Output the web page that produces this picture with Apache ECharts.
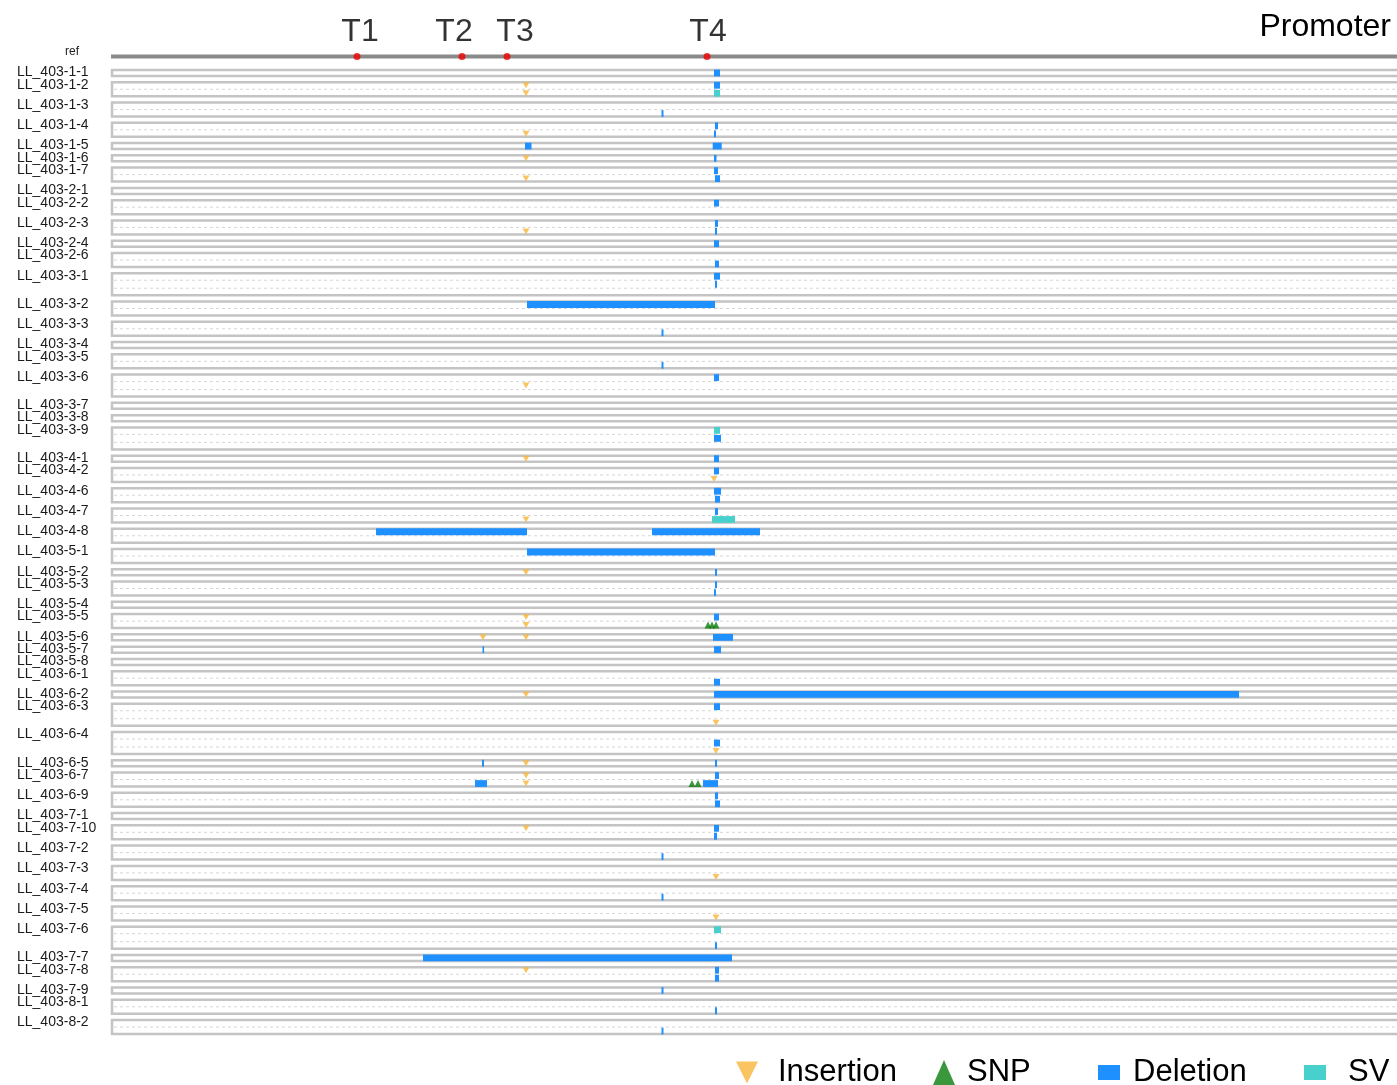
<!DOCTYPE html>
<html>
<head>
<meta charset="utf-8">
<script src="https://cdn.jsdelivr.net/npm/echarts@6/dist/echarts.min.js"></script>
<style>
  html, body { margin: 0; padding: 0; background: #fff; }
  #chart { width: 1397px; height: 1085px; }
</style>
</head>
<body>
<div id="chart"></div>
<script>
// samples (top to bottom) and number of allele tracks in each
const samples = ['LL_403-1-1','LL_403-1-2','LL_403-1-3','LL_403-1-4','LL_403-1-5','LL_403-1-6','LL_403-1-7',
  'LL_403-2-1','LL_403-2-2','LL_403-2-3','LL_403-2-4','LL_403-2-6',
  'LL_403-3-1','LL_403-3-2','LL_403-3-3','LL_403-3-4','LL_403-3-5','LL_403-3-6','LL_403-3-7','LL_403-3-8','LL_403-3-9',
  'LL_403-4-1','LL_403-4-2','LL_403-4-6','LL_403-4-7','LL_403-4-8',
  'LL_403-5-1','LL_403-5-2','LL_403-5-3','LL_403-5-4','LL_403-5-5','LL_403-5-6','LL_403-5-7','LL_403-5-8',
  'LL_403-6-1','LL_403-6-2','LL_403-6-3','LL_403-6-4','LL_403-6-5','LL_403-6-7','LL_403-6-9',
  'LL_403-7-1','LL_403-7-10','LL_403-7-2','LL_403-7-3','LL_403-7-4','LL_403-7-5','LL_403-7-6','LL_403-7-7','LL_403-7-8','LL_403-7-9',
  'LL_403-8-1','LL_403-8-2'];
const trackCounts = [1,2,2,2,1,1,2, 1,2,2,1,2, 3,2,2,1,2,3,1,1,3, 1,2,2,2,2, 2,1,2,1,2,1,1,1, 2,1,3,3,1,2,2, 1,2,2,2,2,2,3,1,2,1, 2,2];

// target sites on the reference
const targetNames = ['T1', 'T2', 'T3', 'T4'];
const targetPos = [246, 351, 396, 596];
const regionLength = 1286;

// [sample, track, start, end]
const deletions = [
  ['LL_403-1-1',0,603,609], ['LL_403-1-2',0,603,609], ['LL_403-1-3',1,550.5,552.5],
  ['LL_403-1-4',0,604,607], ['LL_403-1-4',1,603,605],
  ['LL_403-1-5',0,414,420.5], ['LL_403-1-5',0,601.7,610.7], ['LL_403-1-6',0,603,605.5],
  ['LL_403-1-7',0,603,607], ['LL_403-1-7',1,604,609],
  ['LL_403-2-2',0,603,608], ['LL_403-2-3',0,604,607], ['LL_403-2-3',1,604,606], ['LL_403-2-4',0,603,608],
  ['LL_403-2-6',1,604,608], ['LL_403-3-1',0,603,609], ['LL_403-3-1',1,604,606],
  ['LL_403-3-2',0,416,604], ['LL_403-3-3',1,550.5,552.5], ['LL_403-3-5',1,550.5,552.5],
  ['LL_403-3-6',0,603,608], ['LL_403-3-9',1,603,610], ['LL_403-4-1',0,603,608], ['LL_403-4-2',0,603,608],
  ['LL_403-4-6',0,603,610], ['LL_403-4-6',1,604,609], ['LL_403-4-7',0,604,607],
  ['LL_403-4-8',0,265,416], ['LL_403-4-8',0,541,649], ['LL_403-5-1',0,416,604],
  ['LL_403-5-2',0,604,606], ['LL_403-5-3',0,604,606], ['LL_403-5-3',1,603,605], ['LL_403-5-5',0,603,608],
  ['LL_403-5-6',0,602,622], ['LL_403-5-7',0,371.5,373], ['LL_403-5-7',0,603,610],
  ['LL_403-6-1',1,603,609], ['LL_403-6-2',0,603,1128], ['LL_403-6-3',0,603,609], ['LL_403-6-4',1,603,609],
  ['LL_403-6-5',0,371,373], ['LL_403-6-5',0,604,606],
  ['LL_403-6-7',0,604,608], ['LL_403-6-7',1,364,376], ['LL_403-6-7',1,592,607],
  ['LL_403-6-9',0,604,607], ['LL_403-6-9',1,604,609], ['LL_403-7-10',0,603,608], ['LL_403-7-10',1,603,606],
  ['LL_403-7-2',1,550.5,552.5], ['LL_403-7-4',1,550.5,552.5], ['LL_403-7-6',2,604,606],
  ['LL_403-7-7',0,312,621], ['LL_403-7-8',0,604,608], ['LL_403-7-8',1,604,608],
  ['LL_403-7-9',0,550.5,552.5], ['LL_403-8-1',1,604,606], ['LL_403-8-2',1,550.5,552.5]
];
// [sample, track, start, end]
const svs = [
  ['LL_403-1-2',1,603,609], ['LL_403-3-9',0,603,609], ['LL_403-4-7',1,601,624], ['LL_403-7-6',0,603,610]
];
// [sample, track, position]
const insertions = [
  ['LL_403-1-2',0,415], ['LL_403-1-2',1,415], ['LL_403-1-4',1,415], ['LL_403-1-6',0,415], ['LL_403-1-7',1,415],
  ['LL_403-2-3',1,415], ['LL_403-3-6',1,415], ['LL_403-4-1',0,415], ['LL_403-4-2',1,603], ['LL_403-4-7',1,415],
  ['LL_403-5-2',0,415], ['LL_403-5-5',0,415], ['LL_403-5-5',1,415], ['LL_403-5-6',0,372], ['LL_403-5-6',0,415],
  ['LL_403-6-2',0,415], ['LL_403-6-3',2,605], ['LL_403-6-4',2,605], ['LL_403-6-5',0,415],
  ['LL_403-6-7',0,415], ['LL_403-6-7',1,415], ['LL_403-7-10',0,415], ['LL_403-7-3',1,605],
  ['LL_403-7-5',1,605], ['LL_403-7-8',0,415]
];
// [sample, track, position]
const snps = [
  ['LL_403-5-5',1,597], ['LL_403-5-5',1,601], ['LL_403-5-5',1,605],
  ['LL_403-6-7',1,581], ['LL_403-6-7',1,587]
];

const TRACK_H = 8;
const BOX_GAP = 4.27;
const REF_Y = -12.5;

// vertical layout built from the track counts
const sampleIndex = {};
const sampleTop = [];
let acc = 0;
samples.forEach((s, i) => {
  sampleIndex[s] = i;
  sampleTop.push(acc);
  acc += trackCounts[i] * TRACK_H + BOX_GAP;
});
const totalH = acc;
const trackMid = (name, k) => sampleTop[sampleIndex[name]] + k * TRACK_H + TRACK_H / 2;

const colors = { ins: '#F9B53B', snp: '#0A7D0A', del: '#1E90FF', sv: '#48D1CC' };
const font = 'Liberation Sans, Arial, sans-serif';

const chart = echarts.init(document.getElementById('chart'));

const renderBox = (params, api) => {
  const i = api.value(0);
  const top = sampleTop[i];
  const n = trackCounts[i];
  const p0 = api.coord([0, top]);
  const p1 = api.coord([regionLength, top + n * TRACK_H]);
  const children = [{
    type: 'rect',
    shape: { x: p0[0] + 1, y: p0[1] + 1, width: p1[0] - p0[0] + 20, height: p1[1] - p0[1] - 2 },
    style: { fill: '#fff', stroke: '#c4c4c4', lineWidth: 2.5 }
  }];
  for (let k = 1; k < n; k++) {
    const y = api.coord([0, top + k * TRACK_H])[1];
    children.push({
      type: 'line',
      shape: { x1: p0[0] + 3, y1: y, x2: p1[0] + 5, y2: y },
      style: { stroke: '#d6d6d6', lineWidth: 1, lineDash: [3, 3] }
    });
  }
  children.push({
    type: 'text',
    style: {
      text: samples[i], x: p0[0] - 94, y: p0[1] + 3.5, align: 'left', verticalAlign: 'middle',
      fontSize: 14, fontFamily: font, fill: '#1a1a1a'
    }
  });
  return { type: 'group', children };
};

const renderSpan = (params, api) => {
  const i = api.value(0), k = api.value(1);
  const y0 = sampleTop[i] + k * TRACK_H;
  const a = api.coord([api.value(2), y0 + 0.6]);
  const b = api.coord([api.value(3), y0 + TRACK_H - 0.6]);
  return {
    type: 'rect',
    shape: { x: a[0], y: a[1], width: Math.max(b[0] - a[0], 1.6), height: b[1] - a[1] },
    style: { fill: api.visual('color') }
  };
};

const spanData = list => list.map(d => [sampleIndex[d[0]], d[1], d[2], d[3]]);

const legendText = pad => ({ fontSize: 31, color: '#000', fontFamily: font, padding: [0, 0, 0, pad] });

chart.setOption({
  animation: false,
  title: {
    text: 'Promoter', right: 1, top: 6,
    textStyle: { fontSize: 32, fontWeight: 'normal', color: '#000', fontFamily: font }
  },
  graphic: [{
    type: 'text', left: 65, top: 46,
    style: { text: 'ref', fontSize: 12, fontFamily: font, fill: '#222' }
  }],
  legend: [
    { left: 736, top: 1057, padding: 0, itemWidth: 22, itemHeight: 24, selectedMode: false,
      data: [{ name: 'Insertion', icon: 'path://M0,0L10,0L5,10Z' }], textStyle: legendText(15) },
    { left: 933, top: 1057, padding: 0, itemWidth: 22, itemHeight: 25, selectedMode: false,
      data: [{ name: 'SNP', icon: 'triangle' }], textStyle: legendText(7) },
    { left: 1098, top: 1057, padding: 0, itemWidth: 22, itemHeight: 15, selectedMode: false,
      data: [{ name: 'Deletion', icon: 'rect' }], textStyle: legendText(8) },
    { left: 1304, top: 1057, padding: 0, itemWidth: 22, itemHeight: 15, selectedMode: false,
      data: [{ name: 'SV', icon: 'rect' }], textStyle: legendText(17) }
  ],
  grid: { left: 111, right: 0, top: 40, height: totalH + 29 + 6 },
  xAxis: { type: 'value', min: 0, max: regionLength, show: false },
  yAxis: { type: 'value', min: -29, max: totalH + 6, inverse: true, show: false },
  series: [
    {
      name: 'boxes', type: 'custom', renderItem: renderBox, z: 1, silent: true,
      data: samples.map((s, i) => [i])
    },
    {
      name: 'ref', type: 'line', symbol: 'none', z: 2, silent: true,
      lineStyle: { color: '#8a8a8a', width: 4 },
      data: [[0, REF_Y], [regionLength + 10, REF_Y]]
    },
    {
      name: 'targets', type: 'scatter', symbol: 'circle', symbolSize: 7, z: 3,
      itemStyle: { color: '#ee0000' },
      label: { show: true, position: 'top', distance: 5, fontSize: 32, color: '#000', fontFamily: font,
        formatter: p => targetNames[p.dataIndex] },
      data: targetPos.map((x, i) => ({ value: [x, REF_Y], label: { offset: [[3, 0], [-8, 0], [8, 0], [1, 0]][i] } }))
    },
    {
      name: 'Deletion', type: 'custom', renderItem: renderSpan, z: 4,
      itemStyle: { color: colors.del }, data: spanData(deletions)
    },
    {
      name: 'SV', type: 'custom', renderItem: renderSpan, z: 4,
      itemStyle: { color: colors.sv }, data: spanData(svs)
    },
    {
      name: 'Insertion', type: 'scatter', z: 5,
      symbol: 'path://M0,0L10,0L5,10Z', symbolSize: [7, 6],
      itemStyle: { color: colors.ins },
      data: insertions.map(d => [d[2], trackMid(d[0], d[1])])
    },
    {
      name: 'SNP', type: 'scatter', z: 5,
      symbol: 'triangle', symbolSize: [7, 7],
      itemStyle: { color: colors.snp },
      data: snps.map(d => [d[2], trackMid(d[0], d[1])])
    }
  ]
});
</script>
</body>
</html>
